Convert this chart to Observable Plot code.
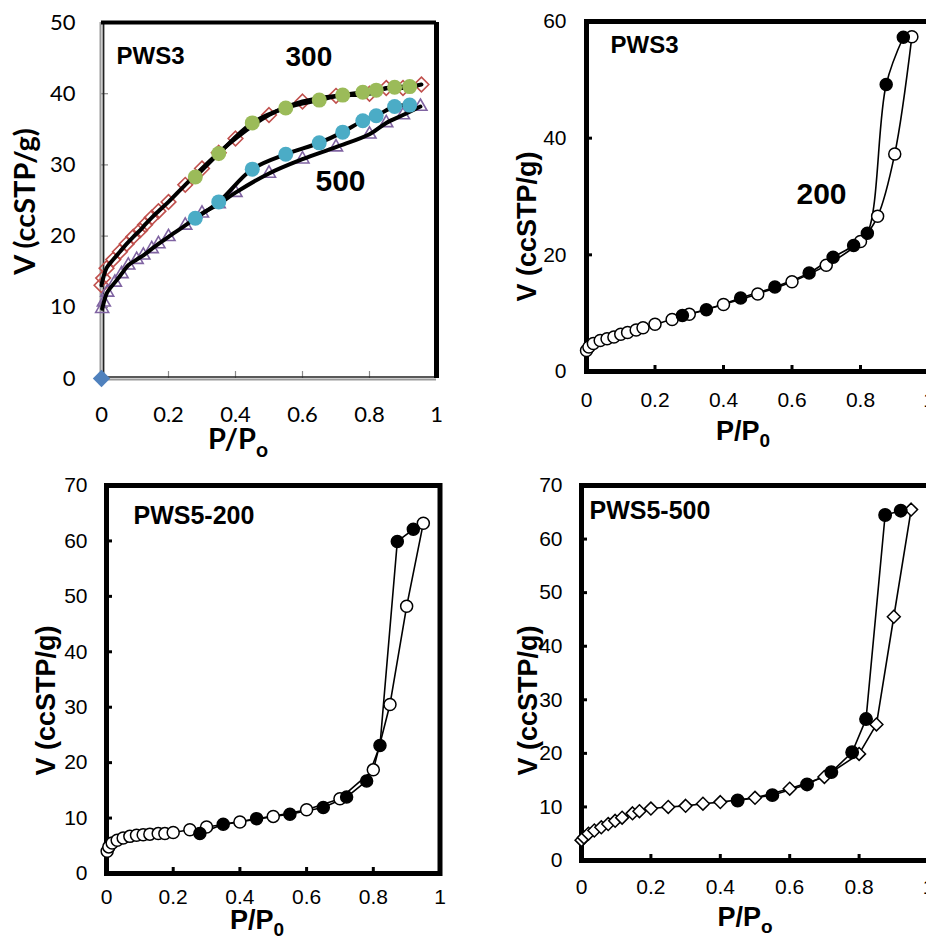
<!DOCTYPE html>
<html><head><meta charset="utf-8">
<script src="https://cdn.jsdelivr.net/npm/d3@7"></script>
<script src="https://cdn.jsdelivr.net/npm/@observablehq/plot@0.6"></script>
<style>
html,body{margin:0;padding:0;background:#fff;overflow:hidden;}
#wrap{position:relative;width:926px;height:937px;overflow:hidden;background:#fff;}
.panel{position:absolute;}
</style></head><body><div id="wrap"></div>
<script>
// ---------- tick values ----------
const xTicks = [0, 0.2, 0.4, 0.6, 0.8, 1];
const y1Ticks = [0, 10, 20, 30, 40, 50];
const y2Ticks = [0, 20, 40, 60];
const y34Ticks = [0, 10, 20, 30, 40, 50, 60, 70];

// ---------- Panel 1: PWS3 at 300 and 500 ----------
const x300ads = [0.0, 0.005, 0.015, 0.035, 0.055, 0.075, 0.095, 0.115, 0.13, 0.15, 0.17, 0.2, 0.25, 0.3, 0.35, 0.4, 0.5, 0.6, 0.7, 0.8, 0.85, 0.9, 0.955];
const y300ads = [13.1, 14.1, 15.5, 16.7, 17.8, 18.9, 19.9, 20.8, 21.6, 22.6, 23.5, 24.8, 27.2, 29.5, 31.7, 33.7, 37.0, 38.9, 39.7, 40.0, 40.8, 40.8, 41.3];
const x300des = [0.28, 0.35, 0.45, 0.55, 0.65, 0.72, 0.78, 0.82, 0.875, 0.92];
const y300des = [28.3, 31.6, 35.9, 38.0, 39.1, 39.8, 40.2, 40.5, 40.9, 41.0];
const x500ads = [0.002, 0.007, 0.017, 0.04, 0.06, 0.08, 0.105, 0.125, 0.15, 0.17, 0.2, 0.25, 0.3, 0.35, 0.4, 0.5, 0.6, 0.7, 0.8, 0.85, 0.9, 0.952];
const y500ads = [9.8, 10.7, 12.1, 13.5, 14.7, 15.9, 16.7, 17.3, 18.2, 18.9, 19.9, 21.5, 23.2, 24.5, 26.1, 28.8, 30.8, 32.5, 34.3, 35.9, 37.0, 38.2];
const x500des = [0.28, 0.35, 0.45, 0.55, 0.65, 0.72, 0.78, 0.82, 0.875, 0.92];
const y500des = [22.5, 24.8, 29.4, 31.5, 33.1, 34.6, 36.2, 36.9, 38.2, 38.4];
const xStray = [0];
const yStray = [0];

// ---------- Panel 2: PWS3-200 ----------
const x2ads = [0.0, 0.007, 0.02, 0.04, 0.06, 0.08, 0.1, 0.12, 0.145, 0.165, 0.2, 0.25, 0.3, 0.4, 0.5, 0.6, 0.7, 0.8, 0.85, 0.9, 0.95];
const y2ads = [3.6, 4.2, 4.8, 5.3, 5.6, 5.9, 6.4, 6.7, 7.1, 7.5, 8.1, 8.9, 9.8, 11.5, 13.3, 15.4, 18.2, 22.3, 26.6, 37.3, 57.4];
const x2des = [0.28, 0.35, 0.45, 0.55, 0.65, 0.72, 0.78, 0.82, 0.875, 0.925];
const y2des = [9.6, 10.6, 12.6, 14.5, 16.9, 19.6, 21.6, 23.7, 49.2, 57.3];

// ---------- Panel 3: PWS5-200 ----------
const x3ads = [0.002, 0.007, 0.017, 0.032, 0.05, 0.07, 0.09, 0.11, 0.13, 0.155, 0.175, 0.2, 0.25, 0.3, 0.4, 0.5, 0.6, 0.7, 0.8, 0.85, 0.9, 0.95];
const y3ads = [4.0, 4.8, 5.5, 6.0, 6.4, 6.7, 6.9, 7.0, 7.1, 7.2, 7.2, 7.4, 7.9, 8.4, 9.3, 10.3, 11.5, 13.5, 18.7, 30.5, 48.2, 63.2];
const x3des = [0.28, 0.35, 0.45, 0.55, 0.65, 0.72, 0.78, 0.82, 0.872, 0.92];
const y3des = [7.2, 8.9, 9.9, 10.7, 11.9, 13.8, 16.7, 23.1, 59.9, 62.1];

// ---------- Panel 4: PWS5-500 ----------
const x4ads = [0.0, 0.007, 0.02, 0.037, 0.057, 0.077, 0.097, 0.117, 0.147, 0.167, 0.2, 0.25, 0.3, 0.35, 0.4, 0.5, 0.6, 0.7, 0.8, 0.85, 0.9, 0.95];
const y4ads = [3.8, 4.3, 5.0, 5.6, 6.2, 6.8, 7.4, 8.0, 8.8, 9.2, 9.7, 10.0, 10.2, 10.6, 10.9, 11.7, 13.4, 15.6, 19.9, 25.4, 45.5, 65.5];
const x4des = [0.45, 0.55, 0.65, 0.72, 0.78, 0.82, 0.875, 0.92];
const y4des = [11.2, 12.2, 14.2, 16.5, 20.2, 26.4, 64.5, 65.3];

const zip = (xs, ys) => xs.map((x, i) => ({x, y: ys[i]}));

const ARIAL = "'Liberation Sans', Arial, sans-serif";
const CALIBRI = "Lato, 'Open Sans', sans-serif";

function tickMarks(xt, yt, innerW, innerH, len, stroke, sw) {
  return [
    Plot.ruleX(xt, {x: d => d, insetTop: innerH - len, stroke, strokeWidth: sw}),
    Plot.ruleY(yt, {y: d => d, insetRight: innerW - len, stroke, strokeWidth: sw})
  ];
}
function tickLabels(xt, yt, xDy, yDx, font, size) {
  return [
    Plot.text(xt, {x: d => d, text: d => String(d), frameAnchor: "bottom", dy: xDy, lineAnchor: "middle", fontSize: size, fontFamily: font, fill: "black"}),
    Plot.text(yt, {y: d => d, text: d => String(d), frameAnchor: "left", dx: -yDx, textAnchor: "end", lineAnchor: "middle", fontSize: size, fontFamily: font, fill: "black"})
  ];
}
function label(t, dx, dy, size, font) {
  return Plot.text([t], {frameAnchor: "top-left", dx, dy, text: d => d, textAnchor: "start", lineAnchor: "bottom", fontSize: size, fontWeight: "bold", fontFamily: font || ARIAL, fill: "black"});
}
function yTitle(dx, dy, size, font) {
  return Plot.text(["V (ccSTP/g)"], {frameAnchor: "left", dx, dy, text: d => d, rotate: -90, textAnchor: "middle", lineAnchor: "bottom", fontSize: size, fontWeight: "bold", fontFamily: font, fill: "black"});
}
function xTitle(svg, x, y, sub, size, subSize, font) {
  const t = d3.select(svg).append("text")
    .attr("x", x).attr("y", y)
    .attr("font-family", font).attr("font-weight", "bold").attr("font-size", size).attr("fill", "black");
  t.append("tspan").text("P/P");
  t.append("tspan").text(sub).attr("font-size", subSize).attr("dy", subSize * 0.38);
}
function place(svg, left, top) {
  const d = document.createElement("div");
  d.className = "panel";
  d.style.left = left + "px";
  d.style.top = top + "px";
  d.appendChild(svg);
  document.getElementById("wrap").appendChild(d);
}
const baseStyle = (font) => ({maxWidth: "none", overflow: "visible", background: "transparent", fontFamily: font, color: "black"});

// ---------- Panel 1 ----------
{
  const W = 463, H = 460, mL = 101, mR = 27, mT = 22, mB = 82;
  const a300 = zip(x300ads, y300ads), d300 = zip(x300des, y300des);
  const a500 = zip(x500ads, y500ads), d500 = zip(x500des, y500des);
  const svg = Plot.plot({
    width: W, height: H, marginLeft: mL, marginRight: mR, marginTop: mT, marginBottom: mB,
    x: {domain: [0, 1], axis: null}, y: {domain: [0, 50], axis: null},
    style: baseStyle(CALIBRI),
    marks: [
      ...tickMarks(xTicks, y1Ticks, W - mL - mR, H - mT - mB, 7, "#8a8a8a", 1.2),
      Plot.ruleX([0], {x: d => d, stroke: "#9a9a9a", strokeWidth: 2, dx: -1}),
      Plot.ruleX([0], {x: d => d, stroke: "#222", strokeWidth: 1.8, dx: 2}),
      Plot.ruleY([0], {y: d => d, stroke: "#9a9a9a", strokeWidth: 2, dy: 1}),
      Plot.ruleY([0], {y: d => d, stroke: "#222", strokeWidth: 1.6, dy: -1.5}),
      Plot.ruleY([50], {y: d => d, stroke: "black", strokeWidth: 4}),
      Plot.ruleX([1], {x: d => d, stroke: "black", strokeWidth: 5}),
      Plot.dot(a300, {x: "x", y: "y", symbol: "diamond2", r: 6.6, stroke: "#C0504D", strokeWidth: 1.6, fill: "none"}),
      Plot.dot(a500, {x: "x", y: "y", symbol: "triangle2", r: 6.2, stroke: "#8064A2", strokeWidth: 1.6, fill: "none"}),
      Plot.line(a300, {x: "x", y: "y", curve: "catmull-rom", stroke: "black", strokeWidth: 4}),
      Plot.line(d300, {x: "x", y: "y", curve: "catmull-rom", stroke: "black", strokeWidth: 4}),
      Plot.line(a500, {x: "x", y: "y", curve: "catmull-rom", stroke: "black", strokeWidth: 4}),
      Plot.line(d500, {x: "x", y: "y", curve: "catmull-rom", stroke: "black", strokeWidth: 4}),
      Plot.dot(d300, {x: "x", y: "y", r: 7.5, fill: "#9BBB59"}),
      Plot.dot(d500, {x: "x", y: "y", r: 7.5, fill: "#4BACC6"}),
      Plot.dot(zip(xStray, yStray), {x: "x", y: "y", symbol: "diamond2", r: 7.8, fill: "#4F81BD"}),
      ...tickLabels(xTicks, y1Ticks, 36, 26, CALIBRI, 22),
      label("PWS3", 15, 41, 24),
      label("300", 184, 43, 28),
      label("500", 214, 168, 30),
      yTitle(-67, 1, 29, CALIBRI)
    ]
  });
  xTitle(svg, 238, 449, "o", 29, 21, CALIBRI);
  place(svg, 0, 0);
}

// ---------- Panel 2 ----------
{
  const W = 480, H = 460, mL = 123, mR = 14.5, mT = 21, mB = 89;
  const a = zip(x2ads, y2ads), d = zip(x2des, y2des);
  const svg = Plot.plot({
    width: W, height: H, marginLeft: mL, marginRight: mR, marginTop: mT, marginBottom: mB,
    x: {domain: [0, 1], axis: null}, y: {domain: [0, 60], axis: null},
    style: baseStyle(ARIAL),
    marks: [
      ...tickMarks(xTicks, y2Ticks, W - mL - mR, H - mT - mB, 6, "black", 3),
      Plot.frame({stroke: "black", strokeWidth: 5}),
      Plot.line(a, {x: "x", y: "y", curve: "catmull-rom", stroke: "black", strokeWidth: 1.6}),
      Plot.line(d, {x: "x", y: "y", curve: "catmull-rom", stroke: "black", strokeWidth: 1.6}),
      Plot.dot(a, {x: "x", y: "y", r: 6, stroke: "black", strokeWidth: 1.5, fill: "white"}),
      Plot.dot(d, {x: "x", y: "y", r: 6, stroke: "black", strokeWidth: 1.5, fill: "black"}),
      ...tickLabels(xTicks, y2Ticks, 29, 20, ARIAL, 21),
      label("PWS3", 24, 31, 24),
      label("200", 210, 182, 30),
      yTitle(-51, 30, 27, ARIAL)
    ]
  });
  xTitle(svg, 280, 440, "0", 27, 19, ARIAL);
  place(svg, 463, 0);
}

// ---------- Panel 3 ----------
{
  const W = 463, H = 477, mL = 106, mR = 23.5, mT = 25, mB = 64;
  const a = zip(x3ads, y3ads), d = zip(x3des, y3des);
  const svg = Plot.plot({
    width: W, height: H, marginLeft: mL, marginRight: mR, marginTop: mT, marginBottom: mB,
    x: {domain: [0, 1], axis: null}, y: {domain: [0, 70], axis: null},
    style: baseStyle(ARIAL),
    marks: [
      ...tickMarks(xTicks, y34Ticks, W - mL - mR, H - mT - mB, 6, "black", 3),
      Plot.frame({stroke: "black", strokeWidth: 5}),
      Plot.line(a, {x: "x", y: "y", stroke: "black", strokeWidth: 1.6}),
      Plot.line(d, {x: "x", y: "y", stroke: "black", strokeWidth: 1.6}),
      Plot.dot(a, {x: "x", y: "y", r: 6, stroke: "black", strokeWidth: 1.5, fill: "white"}),
      Plot.dot(d, {x: "x", y: "y", r: 6, stroke: "black", strokeWidth: 1.5, fill: "black"}),
      ...tickLabels(xTicks, y34Ticks, 24, 19, ARIAL, 21),
      label("PWS5-200", 27, 38, 25),
      yTitle(-52, 21, 27, ARIAL)
    ]
  });
  xTitle(svg, 257, 469, "0", 27, 19, ARIAL);
  place(svg, 0, 460);
}

// ---------- Panel 4 ----------
{
  const W = 480, H = 477, mL = 118, mR = 15, mT = 25, mB = 77;
  const a = zip(x4ads, y4ads), d = zip(x4des, y4des);
  const svg = Plot.plot({
    width: W, height: H, marginLeft: mL, marginRight: mR, marginTop: mT, marginBottom: mB,
    x: {domain: [0, 1], axis: null}, y: {domain: [0, 70], axis: null},
    style: baseStyle(ARIAL),
    marks: [
      ...tickMarks(xTicks, y34Ticks, W - mL - mR, H - mT - mB, 6, "black", 3),
      Plot.frame({stroke: "black", strokeWidth: 5}),
      Plot.line(a, {x: "x", y: "y", stroke: "black", strokeWidth: 1.6}),
      Plot.line(d, {x: "x", y: "y", stroke: "black", strokeWidth: 1.6}),
      Plot.dot(a, {x: "x", y: "y", symbol: "diamond2", r: 5.8, stroke: "black", strokeWidth: 1.5, fill: "white"}),
      Plot.dot(d, {x: "x", y: "y", r: 6.2, stroke: "black", strokeWidth: 1.5, fill: "black"}),
      ...tickLabels(xTicks, y34Ticks, 27, 19, ARIAL, 21),
      label("PWS5-500", 8, 33, 25),
      yTitle(-45, 27.5, 27, ARIAL)
    ]
  });
  xTitle(svg, 282, 466, "o", 27, 19, ARIAL);
  place(svg, 463, 460);
}
</script></body></html>
